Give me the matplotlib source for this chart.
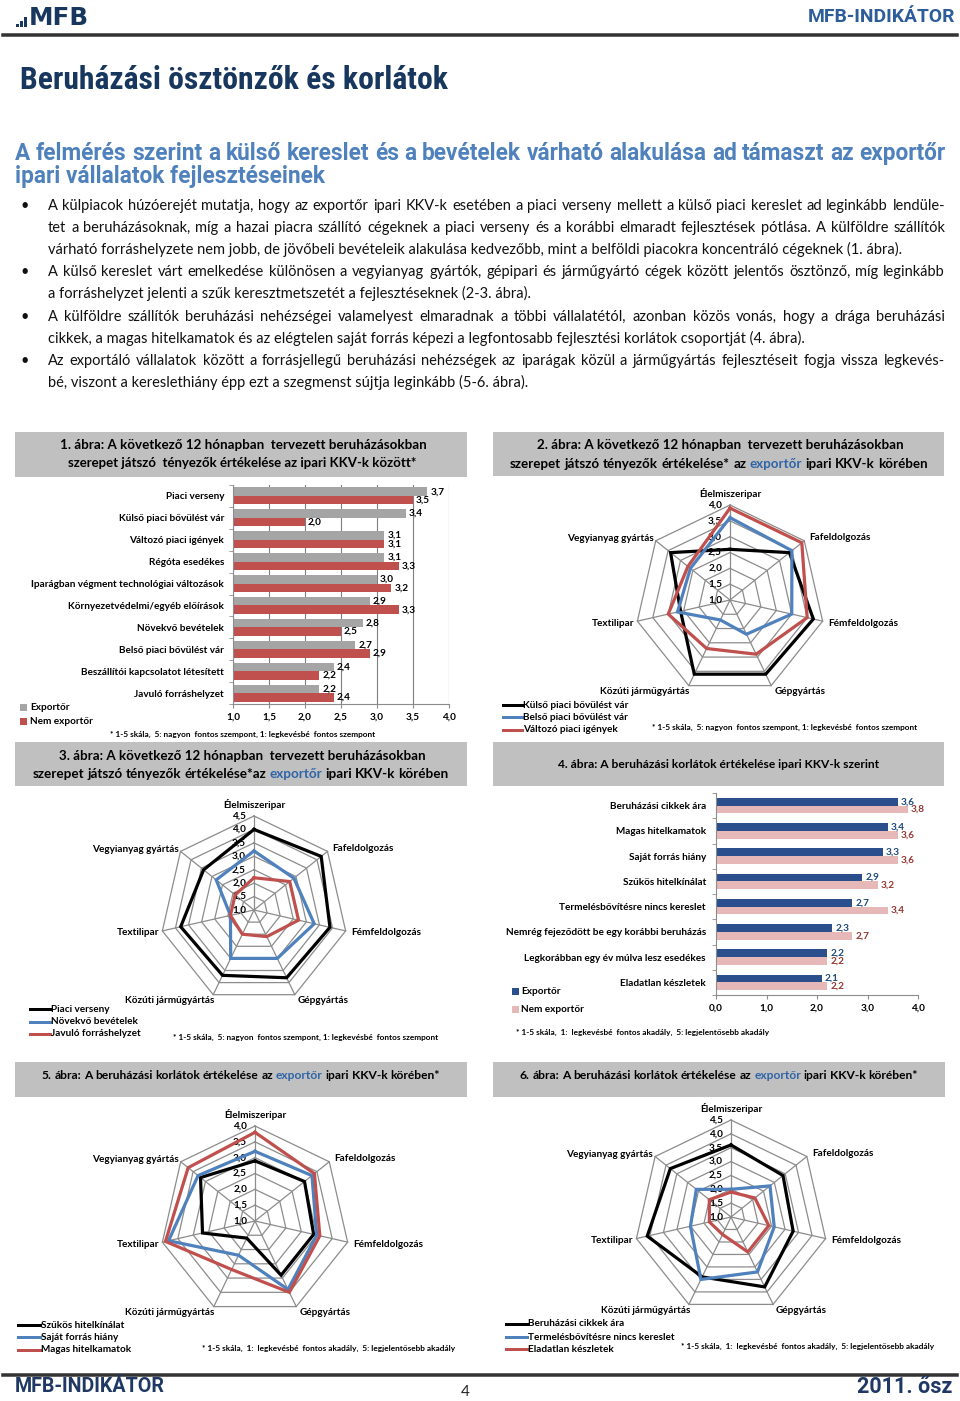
import numpy as np
import matplotlib
matplotlib.use('Agg')
import matplotlib.pyplot as plt
from matplotlib.lines import Line2D
from matplotlib.patches import Rectangle
import logging
logging.getLogger('matplotlib.font_manager').setLevel(logging.ERROR)

# ---------------- DATA ----------------
cats1 = ['Piaci verseny', 'Külső piaci bővülést vár', 'Változó piaci igények', 'Régóta esedékes',
         'Iparágban végment technológiai változások', 'Környezetvédelmi/egyéb előírások',
         'Növekvő bevételek', 'Belső piaci bővülést vár', 'Beszállítói kapcsolatot létesített',
         'Javuló forráshelyzet']
exp1 = [3.7, 3.4, 3.1, 3.1, 3.0, 2.9, 2.8, 2.7, 2.4, 2.2]
nem1 = [3.5, 2.0, 3.1, 3.3, 3.2, 3.3, 2.5, 2.9, 2.2, 2.4]
ticks1 = [1.0, 1.5, 2.0, 2.5, 3.0, 3.5, 4.0]

cats4 = ['Beruházási cikkek ára', 'Magas hitelkamatok', 'Saját forrás hiány', 'Szűkös hitelkínálat',
         'Termelésbővítésre nincs kereslet', 'Nemrég fejeződött be egy korábbi beruházás',
         'Legkorábban egy év múlva lesz esedékes', 'Eladatlan készletek']
exp4 = [3.6, 3.4, 3.3, 2.9, 2.7, 2.3, 2.2, 2.1]
nem4 = [3.8, 3.6, 3.6, 3.2, 3.4, 2.7, 2.2, 2.2]
ticks4 = [0.0, 1.0, 2.0, 3.0, 4.0]

radar_cats = ['Élelmiszeripar', 'Fafeldolgozás', 'Fémfeldolgozás', 'Gépgyártás',
              'Közúti járműgyártás', 'Textilipar', 'Vegyianyag gyártás']

names2 = ['Külső piaci bővülést vár', 'Belső piaci bővülést vár', 'Változó piaci igények']
kulso2 = [2.6, 3.4, 3.7, 3.6, 3.6, 2.6, 3.4]
belso2 = [3.6, 3.5, 3.0, 2.2, 1.7, 2.7, 2.6]
valt2 = [3.9, 3.9, 3.5, 2.9, 2.7, 3.0, 2.7]

names3 = ['Piaci verseny', 'Növekvő bevételek', 'Javuló forráshelyzet']
piaci3 = [4.0, 4.2, 3.9, 3.8, 3.7, 3.8, 3.4]
novekvo3 = [3.2, 2.9, 3.3, 3.0, 3.0, 1.9, 2.8]
javulo3 = [2.2, 2.7, 2.7, 2.1, 2.0, 1.9, 1.9]

names5 = ['Szűkös hitelkínálat', 'Saját forrás hiány', 'Magas hitelkamatok']
szukos5 = [2.9, 3.0, 2.9, 2.9, 1.6, 2.7, 3.2]
sajat5 = [3.2, 3.3, 3.0, 3.4, 2.2, 3.8, 3.3]
magas5 = [3.8, 3.4, 3.1, 3.5, 2.7, 3.9, 3.7]

names6 = ['Beruházási cikkek ára', 'Termelésbővítésre nincs kereslet', 'Eladatlan készletek']
beruh6 = [3.6, 3.4, 3.3, 3.8, 3.4, 4.1, 3.8]
termel6 = [2.0, 2.8, 2.6, 3.2, 3.5, 2.5, 2.6]
eladatlan6 = [1.9, 2.1, 2.4, 2.4, 1.7, 1.8, 2.0]

body_lines = [
    ("A külpiacok húzóerejét mutatja, hogy az exportőr ipari KKV-k esetében a piaci verseny mellett a külső piaci kereslet ad leginkább lendüle-", True, True),
    ("tet a beruházásoknak, míg a hazai piacra szállító cégeknek a piaci verseny és a korábbi elmaradt fejlesztések pótlása. A külföldre szállítók", True, False),
    ("várható forráshelyzete nem jobb, de jövőbeli bevételeik alakulása kedvezőbb, mint a belföldi piacokra koncentráló cégeknek (1. ábra).", False, False),
    ("A külső kereslet várt emelkedése különösen a vegyianyag gyártók, gépipari és járműgyártó cégek között jelentős ösztönző, míg leginkább", True, True),
    ("a forráshelyzet jelenti a szűk keresztmetszetét a fejlesztéseknek (2-3. ábra).", False, False),
    ("A külföldre szállítók beruházási nehézségei valamelyest elmaradnak a többi vállalatétól, azonban közös vonás, hogy a drága beruházási", True, True),
    ("cikkek, a magas hitelkamatok és az elégtelen saját forrás képezi a legfontosabb fejlesztési korlátok csoportját (4. ábra).", False, False),
    ("Az exportáló vállalatok között a forrásjellegű beruházási nehézségek az iparágak közül a járműgyártás fejlesztéseit fogja vissza legkevés-", True, True),
    ("bé, viszont a kereslethiány épp ezt a szegmenst sújtja leginkább (5-6. ábra).", False, False),
]

# ---------------- SETUP ----------------
W, H = 960, 1401
fig = plt.figure(figsize=(W / 100, H / 100), dpi=100)
fig.patch.set_facecolor('white')
REN = fig.canvas.get_renderer()

BODY = ['Lato', 'DejaVu Sans']
COND = ['Liberation Sans Narrow', 'Roboto Condensed', 'Roboto', 'DejaVu Sans']
SUBF = ['Roboto', 'DejaVu Sans']
TAHO = ['DejaVu Sans']
NAVY = '#17375e'
SUBBLUE = '#4f81bd'
LINKBLUE = '#2e64a8'
GRIDC = '#8c8c8c'
BOXC = '#c0c0c0'


def fx(x): return x / W
def fy(y): return 1 - y / H
def box(l, t, r, b): return [fx(l), fy(b), (r - l) / W, (b - t) / H]
def tw(t): return t.get_window_extent(renderer=REN).width
def pt(p): return p * 0.72
def fmt(v): return f'{v:.1f}'.replace('.', ',')


def fit_text(x, y, s, width, size=10, ha='left', **kw):
    t = fig.text(fx(x), fy(y), s, fontsize=size, ha=ha, va='center', **kw)
    t.set_fontsize(size * width / tw(t))
    return t


def space_w(size, **kw):
    a = fig.text(0, 0, 'x x', fontsize=size, **kw)
    b = fig.text(0, 0, 'xx', fontsize=size, **kw)
    w = tw(a) - tw(b)
    a.remove(); b.remove()
    return w


def rich(x0, x1, y, parts, size=10, **kw):
    """parts: list of (text, color); scaled to span x0..x1, words joined by single spaces"""
    ts = [fig.text(0, 0, s, fontsize=size, color=c, ha='left', va='baseline', **kw) for s, c in parts]
    sp = space_w(size, **kw)
    ws = [tw(t) for t in ts]
    k = (x1 - x0) / (sum(ws) + sp * (len(ts) - 1))
    ns = size * k
    x = x0
    for t, w in zip(ts, ws):
        t.set_fontsize(ns)
        t.set_position((fx(x), fy(y + 0.36 * ns / 0.72)))
        x += w * k + sp * k
    return ns


def justify(x0, x1, y, s, size, **kw):
    words = s.split()
    ts = [fig.text(0, 0, w, fontsize=size, ha='left', va='baseline', **kw) for w in words]
    ws = [tw(t) for t in ts]
    gap = (x1 - x0 - sum(ws)) / (len(ws) - 1)
    x = x0
    for t, w in zip(ts, ws):
        t.set_position((fx(x), fy(y + 0.36 * size / 0.72)))
        x += w + gap


def add_rect(l, t, r, b, color, z=0):
    fig.add_artist(Rectangle((fx(l), fy(b)), (r - l) / W, (b - t) / H, transform=fig.transFigure,
                             facecolor=color, edgecolor='none', zorder=z))


def hline(x0, x1, y, lw_px, color):
    fig.add_artist(Line2D([fx(x0), fx(x1)], [fy(y), fy(y)], lw=pt(lw_px), color=color,
                          transform=fig.transFigure))


# ---------------- HEADER ----------------
for x, h in [(16, 3), (20, 6), (24, 10)]:
    add_rect(x, 27 - h, x + 2.6, 27, NAVY, 2)
fit_text(29, 18, 'MFB', 60, size=16, family=TAHO, weight='bold', color=NAVY)
fit_text(955, 17, 'MFB-INDIKÁTOR', 147, size=11, ha='right', family=SUBF, weight='bold', color='#2c5d9a')
hline(3, 957, 34.5, 3.5, '#333333')

fit_text(20, 80, 'Beruházási ösztönzők és korlátok', 428, size=18, family=COND, weight='bold', color=NAVY)

sub1 = "A felmérés szerint a külső kereslet és a bevételek várható alakulása ad támaszt az exportőr"
ns = rich(15, 946, 152, [(w, SUBBLUE) for w in sub1.split()], size=13, family=SUBF, weight='bold')
fig.text(fx(15), fy(175 + 0.36 * ns / 0.72), 'ipari vállalatok fejlesztéseinek', fontsize=ns,
         family=SUBF, weight='bold', color=SUBBLUE, ha='left', va='baseline')

# ---------------- BODY TEXT ----------------
X0, X1 = 48, 945
base = 10
sp0 = space_w(base, family=BODY)
ratios = []
tmp = []
for s, j, b in body_lines:
    if j:
        tts = [fig.text(0, 0, w, fontsize=base, family=BODY) for w in s.split()]
        tmp += tts
        ws = [tw(t) for t in tts]
        ratios.append((X1 - X0) / (sum(ws) + sp0 * (len(ws) - 1)))
for t in tmp:
    t.remove()
bsize = min(10.5, base * min(ratios) * 0.995)
ys = [205, 227, 249, 271, 293, 316, 338, 360, 382]
for (s, j, b), y in zip(body_lines, ys):
    if b:
        fig.text(fx(20), fy(y + 0.36 * bsize / 0.72), '•', fontsize=bsize, family=BODY,
                 ha='left', va='baseline', color='#111111')
    if j:
        justify(X0, X1, y, s, bsize, family=BODY, color='#111111')
    else:
        fig.text(fx(X0), fy(y + 0.36 * bsize / 0.72), s, fontsize=bsize, family=BODY,
                 ha='left', va='baseline', color='#111111')

# ---------------- CHART TITLE BOXES ----------------
TK = dict(family=BODY, weight='bold')
add_rect(15, 432, 467, 477, BOXC)
fit_text(60, 445, '1. ábra: A következő 12 hónapban  tervezett beruházásokban', 365, size=10, **TK)
fit_text(68, 463, 'szerepet játszó  tényezők értékelése az ipari KKV-k között*', 349, size=10, **TK)

add_rect(493, 432, 944, 476, BOXC)
fit_text(537, 445, '2. ábra: A következő 12 hónapban  tervezett beruházásokban', 365, size=10, **TK)
rich(510, 928, 463, [('szerepet', 'k'), ('játszó', 'k'), ('tényezők', 'k'), ('értékelése*', 'k'), ('az', 'k'),
                     ('exportőr', LINKBLUE), ('ipari', 'k'), ('KKV-k', 'k'), ('körében', 'k')], size=10, **TK)

add_rect(15, 742, 467, 786, BOXC)
fit_text(59, 756, '3. ábra: A következő 12 hónapban  tervezett beruházásokban', 364, size=10, **TK)
rich(33, 448, 773, [('szerepet', 'k'), ('játszó', 'k'), ('tényezők', 'k'), ('értékelése*az', 'k'),
                    ('exportőr', LINKBLUE), ('ipari', 'k'), ('KKV-k', 'k'), ('körében', 'k')], size=10, **TK)

add_rect(493, 742, 944, 786, BOXC)
fit_text(558, 765, '4. ábra: A beruházási korlátok értékelése ipari KKV-k szerint', 321, size=10, **TK)

add_rect(15, 1062, 467, 1097, BOXC)
rich(42, 440, 1075, [('5.', 'k'), ('ábra:', 'k'), ('A', 'k'), ('beruházási', 'k'), ('korlátok', 'k'),
                     ('értékelése', 'k'), ('az', 'k'), ('exportőr', LINKBLUE), ('ipari', 'k'), ('KKV-k', 'k'),
                     ('körében*', 'k')], size=10, **TK)

add_rect(493, 1062, 945, 1097, BOXC)
rich(520, 918, 1075, [('6.', 'k'), ('ábra:', 'k'), ('A', 'k'), ('beruházási', 'k'), ('korlátok', 'k'),
                      ('értékelése', 'k'), ('az', 'k'), ('exportőr', LINKBLUE), ('ipari', 'k'), ('KKV-k', 'k'),
                      ('körében*', 'k')], size=10, **TK)

# ---------------- BAR CHART HELPER ----------------
LBL = dict(family=BODY, fontweight='bold')


def barchart(ax, cats, a_vals, b_vals, ticks, xlim, hb, ca, cb, la, lb, pad_px, grid):
    n = len(cats)
    y = np.arange(n)
    ax.barh(y - hb / 2, a_vals, height=hb, color=ca, zorder=2)
    ax.barh(y + hb / 2, b_vals, height=hb, color=cb, zorder=2)
    ax.set_xlim(*xlim)
    ax.set_ylim(n - 0.5, -0.5)
    for i, (a, b) in enumerate(zip(a_vals, b_vals)):
        ax.annotate(fmt(a), (a, i - hb / 2), xytext=(pt(3), 0), textcoords='offset points', ha='left',
                    va='center', fontsize=7.2, color=la, annotation_clip=False, **LBL)
        ax.annotate(fmt(b), (b, i + hb / 2), xytext=(pt(3), 0), textcoords='offset points', ha='left',
                    va='center', fontsize=7.2, color=lb, annotation_clip=False, **LBL)
    for s in ['top', 'right']:
        ax.spines[s].set_visible(False)
    for s in ['left', 'bottom']:
        ax.spines[s].set_color(GRIDC)
        ax.spines[s].set_linewidth(0.8)
    ax.set_xticks(ticks)
    ax.set_xticklabels([fmt(v) for v in ticks], fontsize=7.2, **LBL)
    ax.tick_params(axis='x', length=3, color=GRIDC, pad=3)
    ax.set_yticks(y)
    ax.set_yticklabels(cats, fontsize=7.2, **LBL)
    ax.tick_params(axis='y', which='major', length=0, pad=pt(pad_px))
    ax.set_yticks(np.arange(-0.5, n, 1), minor=True)
    ax.tick_params(axis='y', which='minor', length=3, color=GRIDC)
    if grid:
        ax.grid(axis='x', color='#7f7f7f', lw=0.8)
        ax.set_axisbelow(True)
    ax.patch.set_alpha(0)


ax1 = fig.add_axes(box(233, 485, 449, 704))
barchart(ax1, cats1, exp1, nem1, ticks1, (1, 4), 0.39, '#a5a5a5', '#c0504d', 'k', 'k', 9, True)
for (lab, c, yy) in [('Exportőr', '#a5a5a5', 707), ('Nem exportőr', '#c0504d', 721)]:
    add_rect(20, yy - 3.5, 27, yy + 3.5, c, 2)
    fig.text(fx(30), fy(yy), lab, fontsize=7.2, ha='left', va='center', family=BODY, weight='bold')
fit_text(110, 734, '* 1-5 skála,  5: nagyon  fontos szempont, 1: legkevésbé  fontos szempont', 267,
         size=5.5, **TK)

ax4 = fig.add_axes(box(716, 793, 918, 995))
barchart(ax4, cats4, exp4, nem4, ticks4, (0, 4), 0.31, '#2b4f8c', '#e6b9b8', '#1f497d', '#953735', 10, False)
for (lab, c, yy) in [('Exportőr', '#2b4f8c', 991), ('Nem exportőr', '#e6b9b8', 1009)]:
    add_rect(512, yy - 3.5, 519, yy + 3.5, c, 2)
    fig.text(fx(521), fy(yy), lab, fontsize=7.2, ha='left', va='center', family=BODY, weight='bold')
fit_text(516, 1032, '* 1-5 skála,  1:  legkevésbé  fontos akadály,  5: legjelentősebb akadály', 255,
         size=5.5, **TK)

# ---------------- RADAR HELPER ----------------
SER_COLORS = ['#000000', '#4f81bd', '#c0504d']
OFFS = [(0, 12, 'center'), (5, 3, 'left'), (6, -2, 'left'), (3, -6, 'left'),
        (1, -6, 'right'), (-3, -2, 'right'), (-2, 2, 'right')]


def radar(cx, cy, R, rmax, series, names, leg_x0, leg_x1, leg_ys, note, note_x0, note_x1, note_y):
    rmin = 1.0
    ax = fig.add_axes(box(cx - R, cy - R, cx + R, cy + R), projection='polar')
    ax.set_theta_offset(np.pi / 2)
    ax.set_theta_direction(-1)
    ax.set_ylim(rmin, rmax)
    ax.grid(False)
    ax.set_xticks([])
    ax.set_yticks([])
    ax.spines['polar'].set_visible(False)
    ax.patch.set_visible(False)
    th = np.arange(7) * 2 * np.pi / 7
    thc = np.append(th, th[0])
    levels = np.arange(rmin, rmax + 0.01, 0.5)
    for lv in levels[1:]:
        ax.plot(thc, [lv] * 8, color=GRIDC, lw=0.9, clip_on=False, zorder=1)
    for t in th:
        ax.plot([t, t], [rmin, rmax], color=GRIDC, lw=0.9, clip_on=False, zorder=1)
    for lv in levels:
        ax.annotate(fmt(lv), (0, lv), xytext=(pt(-8), 0), textcoords='offset points', ha='right',
                    va='center', fontsize=7.2, annotation_clip=False, zorder=2, **LBL)
    for vals, c in zip(series, SER_COLORS):
        v = np.append(vals, vals[0])
        ax.plot(thc, v, color=c, lw=2.3, zorder=3, clip_on=False, solid_joinstyle='miter')
    for k, name in enumerate(radar_cats):
        dx, dy, ha = OFFS[k]
        ax.annotate(name, (th[k], rmax), xytext=(pt(dx), pt(dy)), textcoords='offset points', ha=ha,
                    va='center', fontsize=7.2, annotation_clip=False, **LBL)
    for nm, c, yy in zip(names, SER_COLORS, leg_ys):
        hline(leg_x0, leg_x1, yy, 3, c)
        fig.text(fx(leg_x1 + 1), fy(yy), nm, fontsize=7.2, ha='left', va='center', family=BODY, weight='bold')
    fit_text(note_x0, note_y, note, note_x1 - note_x0, size=5.5, **TK)


NOTE_A = '* 1-5 skála,  5: nagyon  fontos szempont, 1: legkevésbé  fontos szempont'
NOTE_B = '* 1-5 skála,  1:  legkevésbé  fontos akadály,  5: legjelentősebb akadály'

radar(730, 600, 95, 4.0, [kulso2, belso2, valt2], names2, 503, 522, [705, 717, 730],
      NOTE_A, 652, 918, 727)
radar(254, 910, 94, 4.5, [piaci3, novekvo3, javulo3], names3, 30, 50, [1009, 1022, 1034],
      NOTE_A, 173, 439, 1037)
radar(255, 1221, 95, 4.0, [szukos5, sajat5, magas5], names5, 18, 40, [1325, 1337, 1350],
      NOTE_B, 202, 455, 1348)
radar(731, 1217, 97, 4.5, [beruh6, termel6, eladatlan6], names6, 506, 527, [1324, 1337, 1349],
      NOTE_B, 681, 933, 1346)

# ---------------- FOOTER ----------------
hline(3, 957, 1374.5, 3.5, '#333333')
fit_text(15, 1387, 'MFB-INDIKÁTOR', 150, size=12, family=SUBF, weight='bold', color='#1f3864')
fit_text(952, 1387, '2011. ősz', 95, size=12, ha='right', family=SUBF, weight='bold', color='#1f3864')
fig.text(fx(465), fy(1392), '4', fontsize=11, ha='center', va='center', family=BODY, color='#222222')

fig.savefig('out.png', dpi=100, facecolor='white')
